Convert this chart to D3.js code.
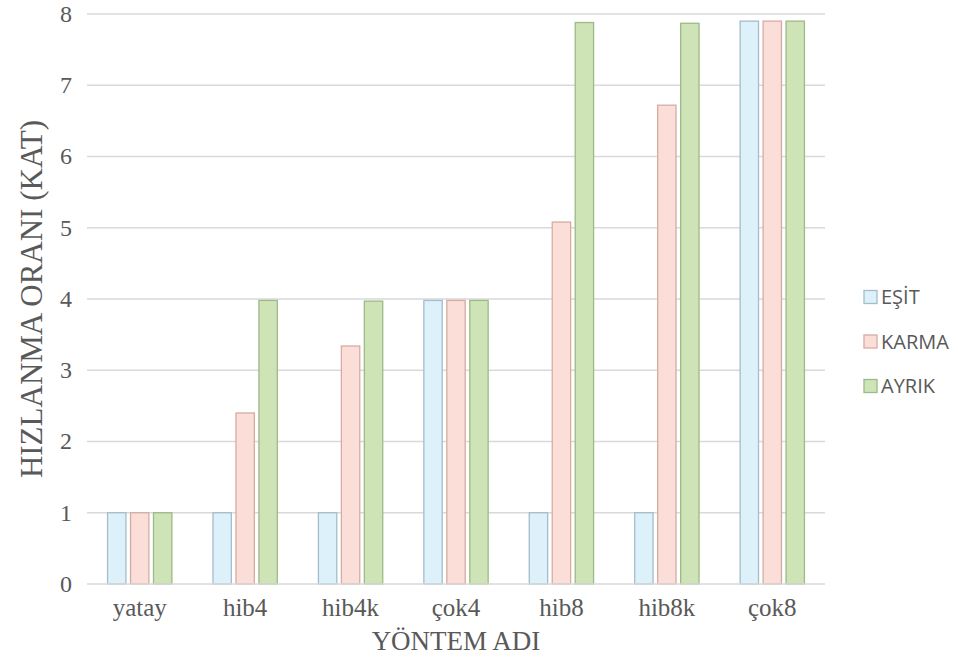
<!DOCTYPE html>
<html>
<head>
<meta charset="utf-8">
<script src="https://cdn.jsdelivr.net/npm/d3@7"></script>
<style>
  body { margin: 0; background: #fff; }
  svg { display: block; }
</style>
</head>
<body>
<div id="chart"></div>
<script>
// data
const categories = ["yatay", "hib4", "hib4k", "çok4", "hib8", "hib8k", "çok8"];
const seriesNames = ["EŞİT", "KARMA", "AYRIK"];
const esit  = [1, 1, 1, 3.98, 1, 1, 7.9];
const karma = [1, 2.4, 3.34, 3.98, 5.08, 6.72, 7.9];
const ayrik = [1, 3.98, 3.97, 3.98, 7.88, 7.87, 7.9];
const yTicks = [0, 1, 2, 3, 4, 5, 6, 7, 8];

const width = 958, height = 667;
const margin = {top: 14, right: 133, bottom: 83, left: 87};

const fills   = ["#ddf1fb", "#fbded7", "#cfe4b6"];
const strokes = ["#a5bccb", "#d5aca3", "#9cba87"];

const svg = d3.select("#chart")
  .append("svg")
    .attr("width", width)
    .attr("height", height);

const x = d3.scaleBand()
    .domain(categories)
    .range([margin.left, width - margin.right])
    .paddingInner(0.39)
    .paddingOuter(0.195);

const xSub = d3.scaleBand()
    .domain(seriesNames)
    .range([0, x.bandwidth()])
    .paddingInner(0.2);

const y = d3.scaleLinear()
    .domain([0, 8])
    .range([height - margin.bottom, margin.top]);

// gridlines
svg.append("g")
  .selectAll("line")
  .data(yTicks.slice(1))
  .join("line")
    .attr("x1", margin.left)
    .attr("x2", width - margin.right)
    .attr("y1", d => y(d))
    .attr("y2", d => y(d))
    .attr("stroke", "#d9d9d9")
    .attr("stroke-width", 1.3);

// bars
const table = categories.map((c, i) => ({cat: c, vals: [esit[i], karma[i], ayrik[i]]}));

svg.append("g")
  .selectAll("g")
  .data(table)
  .join("g")
    .attr("transform", d => `translate(${x(d.cat)},0)`)
  .selectAll("rect")
  .data(d => d.vals.map((v, j) => ({name: seriesNames[j], v: v, j: j})))
  .join("rect")
    .attr("x", d => xSub(d.name))
    .attr("y", d => y(d.v))
    .attr("width", xSub.bandwidth())
    .attr("height", d => y(0) - y(d.v))
    .attr("fill", d => fills[d.j])
    .attr("stroke", d => strokes[d.j])
    .attr("stroke-width", 1.3);

// x axis baseline
svg.append("line")
    .attr("x1", margin.left)
    .attr("x2", width - margin.right)
    .attr("y1", y(0))
    .attr("y2", y(0))
    .attr("stroke", "#d9d9d9")
    .attr("stroke-width", 1.5);

const font = "Liberation Serif";

// y tick labels
svg.append("g")
  .selectAll("text")
  .data(yTicks)
  .join("text")
    .attr("x", 72)
    .attr("y", d => y(d))
    .attr("dy", "0.33em")
    .attr("text-anchor", "end")
    .style("font-family", font)
    .style("font-size", "24px")
    .attr("fill", "#595959")
    .text(d => d);

// x tick labels
svg.append("g")
  .selectAll("text")
  .data(categories)
  .join("text")
    .attr("x", d => x(d) + x.bandwidth() / 2)
    .attr("y", 616)
    .attr("text-anchor", "middle")
    .style("font-family", font)
    .style("font-size", "25px")
    .attr("fill", "#595959")
    .text(d => d);

// axis titles
svg.append("text")
    .attr("x", (margin.left + width - margin.right) / 2)
    .attr("y", 650)
    .attr("text-anchor", "middle")
    .style("font-family", font)
    .style("font-size", "27px")
    .attr("fill", "#595959")
    .text("YÖNTEM ADI");

svg.append("text")
    .attr("transform", `translate(42, ${(margin.top + height - margin.bottom) / 2}) rotate(-90)`)
    .attr("text-anchor", "middle")
    .style("font-family", font)
    .style("font-size", "31px")
    .attr("fill", "#595959")
    .text("HIZLANMA ORANI (KAT)");

// legend
const legend = svg.append("g");
const legY = d3.scalePoint().domain(seriesNames).range([297, 386]);

legend.selectAll("rect")
  .data(seriesNames)
  .join("rect")
    .attr("x", 864)
    .attr("y", d => legY(d) - 6.5)
    .attr("width", 13)
    .attr("height", 13)
    .attr("fill", (d, i) => fills[i])
    .attr("stroke", (d, i) => strokes[i])
    .attr("stroke-width", 1.3);

legend.selectAll("text")
  .data(seriesNames)
  .join("text")
    .attr("x", 881)
    .attr("y", d => legY(d))
    .attr("dy", "0.36em")
    .style("font-family", "'Open Sans', 'Noto Sans', sans-serif")
    .style("font-size", "20px")
    .attr("fill", "#595959")
    .text(d => d);
</script>
</body>
</html>
